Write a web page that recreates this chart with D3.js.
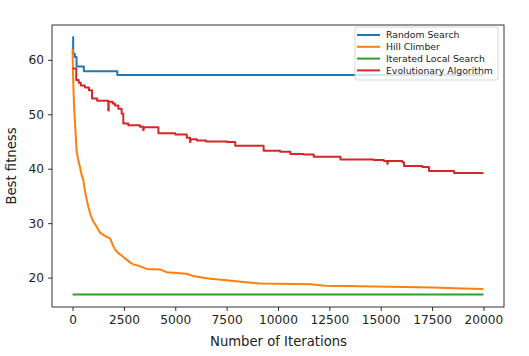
<!DOCTYPE html>
<html>
<head>
<meta charset="utf-8">
<script src="https://cdn.jsdelivr.net/npm/d3@7"></script>
<style>
  html, body { margin: 0; padding: 0; background: #fff; }
  svg { display: block; font-family: "DejaVu Sans", sans-serif; }
</style>
</head>
<body>
<svg id="chart" width="529" height="356"></svg>
<script>
// ---- Data ----
const seriesNames = ["Random Search", "Hill Climber", "Iterated Local Search", "Evolutionary Algorithm"];
const seriesColors = ["#1f77b4", "#ff7f0e", "#2ca02c", "#d62728"];

const randomSearch = [
  [0, 64.2], [30, 61.1], [110, 60.5], [195, 58.8], [550, 57.9], [2180, 57.2], [20000, 57.2]
];
const hillClimber = [
  [0, 62.0], [20, 58.0], [50, 54.0], [80, 51.0], [120, 48.5], [195, 43.4], [275, 41.6],
  [350, 40.5], [430, 39.0], [520, 38.0], [600, 36.0], [680, 34.5], [760, 33.1], [880, 31.5],
  [1005, 30.3], [1150, 29.5], [1330, 28.3], [1550, 27.7], [1820, 27.2], [1900, 26.5],
  [1980, 25.8], [2100, 25.0], [2225, 24.5], [2400, 24.0], [2630, 23.3], [2800, 22.8],
  [2960, 22.4], [3200, 22.2], [3610, 21.6], [4260, 21.5], [4580, 21.0], [5560, 20.7],
  [5880, 20.3], [6300, 20.0], [6700, 19.8], [7510, 19.5], [8320, 19.2], [9140, 18.9],
  [11580, 18.8], [12300, 18.5], [14000, 18.4], [17500, 18.2], [19000, 18.0], [20000, 17.9]
];
const iteratedLocalSearch = [
  [0, 16.9], [20000, 16.9]
];
const evolutionaryAlgorithm = [
  [0, 58.4], [180, 56.3], [300, 55.8], [400, 55.3], [600, 54.9], [800, 54.4], [950, 52.9],
  [1200, 52.5], [1740, 50.7], [1760, 52.3], [1950, 52.0], [2060, 51.6], [2230, 51.0],
  [2390, 50.1], [2470, 48.3], [2710, 48.0], [3280, 47.7], [3440, 47.1], [3460, 47.6],
  [4180, 46.5], [5000, 46.3], [5560, 45.7], [5720, 44.9], [5740, 45.4], [6050, 45.2],
  [6500, 45.0], [7510, 44.9], [7920, 44.2], [9300, 43.3], [10100, 43.1], [10600, 42.7],
  [11250, 42.6], [11740, 42.2], [13040, 41.7], [14660, 41.6], [15150, 41.4], [15320, 40.9],
  [15340, 41.4], [16050, 41.2], [16130, 40.5], [17020, 40.3], [17350, 39.6], [18570, 39.2],
  [20000, 39.2]
];
const allSeries = [randomSearch, hillClimber, iteratedLocalSearch, evolutionaryAlgorithm];
const seriesCurves = [d3.curveStepAfter, d3.curveLinear, d3.curveLinear, d3.curveStepAfter];

const xTicks = [0, 2500, 5000, 7500, 10000, 12500, 15000, 17500, 20000];
const yTicks = [20, 30, 40, 50, 60];
const xLabel = "Number of Iterations";
const yLabel = "Best fitness";

// ---- Layout ----
const W = 529, H = 356;
const margin = { left: 52, top: 25, right: 25, bottom: 49 };
const iw = W - margin.left - margin.right;
const ih = H - margin.top - margin.bottom;

const svg = d3.select("#chart");
const g = svg.append("g").attr("transform", `translate(${margin.left},${margin.top})`);

const x = d3.scaleLinear().domain([-1000, 21000]).range([0, iw]);
const y = d3.scaleLinear().domain([14.6, 66.4]).range([ih, 0]);

// lines
allSeries.forEach((s, i) => {
  const line = d3.line().x(d => x(d[0])).y(d => y(d[1])).curve(seriesCurves[i]);
  g.append("path")
    .datum(s)
    .attr("fill", "none")
    .attr("stroke", seriesColors[i])
    .attr("stroke-width", 2)
    .attr("stroke-linejoin", "round")
    .attr("d", line);
});

// axes
const xAxis = d3.axisBottom(x).tickValues(xTicks).tickFormat(d3.format("d")).tickSizeOuter(0).tickSize(4).tickPadding(4);
const yAxis = d3.axisLeft(y).tickValues(yTicks).tickFormat(d3.format("d")).tickSizeOuter(0).tickSize(4).tickPadding(4);

const gx = g.append("g").attr("transform", `translate(0,${ih})`).call(xAxis);
const gy = g.append("g").call(yAxis);
[gx, gy].forEach(a => {
  a.select(".domain").remove();
  a.selectAll(".tick line").attr("stroke", "#000").attr("stroke-width", 0.8);
  a.selectAll(".tick text").attr("fill", "#222").style("font-size", "12.2px").style("font-family", "DejaVu Sans");
});

// frame
g.append("rect").attr("x", 0).attr("y", 0).attr("width", iw).attr("height", ih)
  .attr("fill", "none").attr("stroke", "#000").attr("stroke-width", 0.8);

// axis labels
svg.append("text")
  .attr("x", margin.left + iw / 2 + 0.5)
  .attr("y", 346)
  .attr("text-anchor", "middle")
  .style("font-size", "13.2px")
  .attr("fill", "#222")
  .text(xLabel);

svg.append("text")
  .attr("transform", `translate(16,${margin.top + ih / 2}) rotate(-90)`)
  .attr("text-anchor", "middle")
  .style("font-size", "13.2px")
  .attr("fill", "#222")
  .text(yLabel);

// legend
const lg = svg.append("g").attr("transform", "translate(355,27)");
lg.append("rect").attr("x", 0).attr("y", 0).attr("width", 143).attr("height", 53)
  .attr("rx", 2).attr("fill", "rgba(255,255,255,0.8)").attr("stroke", "#cccccc").attr("stroke-width", 0.8);
seriesNames.forEach((name, i) => {
  const cy = 8 + i * 11.8;
  lg.append("line").attr("x1", 2).attr("x2", 25).attr("y1", cy).attr("y2", cy)
    .attr("stroke", seriesColors[i]).attr("stroke-width", 2);
  lg.append("text").attr("x", 31).attr("y", cy).attr("dy", "0.35em")
    .style("font-size", "9.3px").attr("fill", "#222").text(name);
});
</script>
</body>
</html>
